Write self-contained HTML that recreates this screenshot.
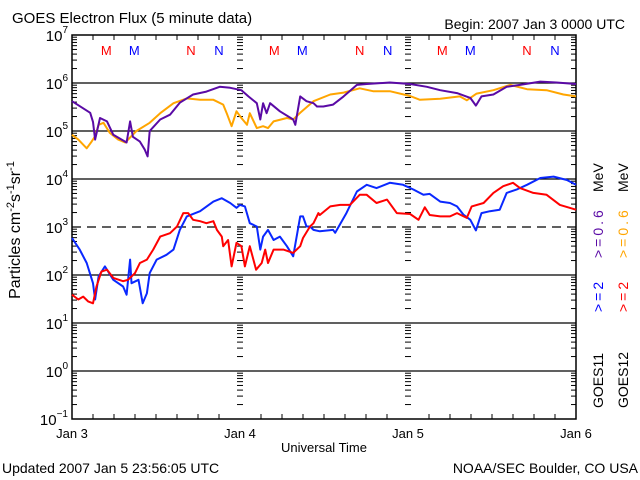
<!DOCTYPE html>
<html><head><meta charset="utf-8">
<style>
html,body{margin:0;padding:0;background:#fff;}
svg{display:block;font-family:"Liberation Sans","DejaVu Sans",sans-serif;}
</style></head>
<body>
<svg id="chart" width="640" height="480" viewBox="0 0 640 480" xmlns="http://www.w3.org/2000/svg">
<rect x="0" y="0" width="640" height="480" fill="#fff"/>
<text x="12" y="23" font-size="15" fill="#000">GOES Electron Flux (5 minute data)</text>
<text x="625" y="29" font-size="14" fill="#000" text-anchor="end">Begin: 2007 Jan 3 0000 UTC</text>
<text x="2" y="473" font-size="14" fill="#000">Updated 2007 Jan  5 23:56:05 UTC</text>
<text x="638" y="473" font-size="14" fill="#000" text-anchor="end">NOAA/SEC Boulder, CO USA</text>
<text x="324" y="452" font-size="13" fill="#000" text-anchor="middle">Universal Time</text>
<text transform="translate(20,230) rotate(-90)" font-size="16" fill="#000" text-anchor="middle">Particles cm<tspan font-size="11" dy="-6">-2</tspan><tspan dy="6">s</tspan><tspan font-size="11" dy="-6">-1</tspan><tspan dy="6">sr</tspan><tspan font-size="11" dy="-6">-1</tspan></text>
<g id="axes"></g>
<g id="series"></g>
<g id="legend">
  <text transform="translate(603,408) rotate(-90)" font-size="14" fill="#000">GOES11</text>
  <text transform="translate(603,312) rotate(-90)" font-size="14" letter-spacing="3" fill="#0000ff">&gt;=2</text>
  <text transform="translate(603,258) rotate(-90)" font-size="14" letter-spacing="3" fill="#5a0aa5">&gt;=0.6</text>
  <text transform="translate(603,192) rotate(-90)" font-size="14" fill="#000">MeV</text>
  <text transform="translate(628,408) rotate(-90)" font-size="14" fill="#000">GOES12</text>
  <text transform="translate(628,312) rotate(-90)" font-size="14" letter-spacing="3" fill="#ff0000">&gt;=2</text>
  <text transform="translate(628,258) rotate(-90)" font-size="14" letter-spacing="3" fill="#ffa500">&gt;=0.6</text>
  <text transform="translate(628,192) rotate(-90)" font-size="14" fill="#000">MeV</text>
</g>
</svg>
<script>
const dayLabels = ["Jan 3","Jan 4","Jan 5","Jan 6"];
const decadeExponents = [7,6,5,4,3,2,1,0,-1];
const markerLabels = ["N","M","M","N","N","M","M","N","N","M","M","N","N"];
const markerHours = [-3.9,4.9,8.9,17.0,21.0,28.9,32.9,41.1,45.1,52.9,56.9,65.0,69.0];
const markerColors = ["#0000ff","#ff0000","#0000ff","#ff0000","#0000ff","#ff0000","#0000ff","#ff0000","#0000ff","#ff0000","#0000ff","#ff0000","#0000ff"];

const g11LowHours = [0,2.6,3.0,3.3,4.0,5.0,5.9,7.8,8.3,8.7,9.7,10.4,10.8,11.1,12.6,14.0,15.4,17.3,19.2,21.1,22.6,24.2,25.2,26.4,26.9,27.3,27.8,28.3,29.7,31.6,31.9,32.6,33.5,34.5,35.0,35.9,37.3,38.8,40.7,42.1,45.4,48.3,50.7,52.6,55.0,56.9,57.7,58.5,60.2,62.1,64.0,66.9,69.2,72];
const g11LowLog = [5.62,5.38,5.19,4.82,5.27,5.20,4.92,4.76,5.2,4.88,4.78,4.61,4.47,5.0,5.24,5.34,5.59,5.76,5.82,5.92,5.90,5.85,5.72,5.58,5.24,5.58,5.37,5.58,5.41,5.24,5.13,5.72,5.62,5.58,5.51,5.51,5.55,5.72,5.96,5.98,6.01,5.98,5.92,5.85,5.79,5.69,5.53,5.72,5.76,5.92,5.96,6.03,6.01,5.98];

const g12LowHours = [0,0.9,2.1,2.8,3.3,3.8,4.5,5.4,6.6,7.6,9.2,11.1,12.6,14.5,16.4,18.3,20.2,21.6,22.1,22.8,23.5,24.2,25.0,25.4,26.4,27.3,28.0,28.8,30.7,31.6,32.6,34.5,36.9,38.8,41.1,43.0,45.4,48.3,49.7,52.6,55.4,56.4,57.8,60.2,62.6,65.0,67.8,70.2,72];
const g12LowLog = [4.92,4.82,4.64,4.78,4.89,5.13,5.17,4.96,4.82,4.76,5.0,5.17,5.37,5.58,5.68,5.65,5.65,5.55,5.37,5.1,5.41,5.27,5.13,5.37,5.06,5.1,5.06,5.2,5.27,5.24,5.38,5.62,5.76,5.80,5.89,5.83,5.83,5.73,5.65,5.67,5.72,5.64,5.78,5.85,5.96,5.87,5.85,5.76,5.72];

const g11HighHours = [0,1.1,2.1,3.0,3.3,3.8,4.7,5.9,7.3,7.8,8.3,8.5,9.5,10.1,10.7,11.1,12.1,13.5,14.5,15.4,16.4,18.3,20.2,21.4,22.6,23.5,24.0,24.7,25.4,26.4,26.9,27.3,28.0,28.8,29.7,30.7,31.6,32.6,33.0,33.5,34.0,34.5,35.4,37.3,37.6,39.2,40.7,42.1,43.5,45.4,47.3,48.8,50.2,51.1,52.6,54.0,55.0,55.9,56.9,57.7,58.5,59.7,61.1,62.1,63.5,65.0,66.9,68.8,70.7,72];
const g11HighLog = [2.77,2.53,2.25,1.83,1.49,1.97,2.18,1.90,1.76,1.59,2.32,1.83,1.9,1.41,1.62,2.04,2.32,2.42,2.53,2.94,3.22,3.33,3.53,3.60,3.50,3.40,3.46,3.43,3.08,3.01,2.53,2.80,2.94,2.73,2.80,2.60,2.39,3.22,3.22,3.01,3.01,2.94,2.91,2.94,2.88,3.29,3.74,3.88,3.81,3.92,3.88,3.78,3.67,3.69,3.53,3.50,3.43,3.26,3.15,2.93,3.29,3.33,3.36,3.71,3.78,3.88,4.02,4.05,3.98,3.88];

const g12HighHours = [0,0.9,1.6,2.3,3.0,3.5,4.2,5.0,5.9,7.3,8.0,9.0,9.7,10.7,11.6,12.6,14.0,15.0,15.9,16.6,17.3,18.3,19.2,20.2,20.7,21.4,21.6,22.3,22.8,23.5,24.2,24.7,25.4,26.3,27.1,27.6,28.0,28.8,30.2,31.6,32.6,33.0,34.0,34.5,35.2,35.4,36.9,38.3,39.7,41.1,42.1,43.5,45.0,46.4,48.3,49.5,50.4,51.1,52.6,54.0,55.0,56.4,57.1,58.8,60.2,61.6,63.0,64.0,65.9,67.8,69.7,72];
const g12HighLog = [1.59,1.49,1.55,1.45,1.41,1.76,2.07,2.11,1.94,1.87,1.90,2.04,2.25,2.32,2.53,2.80,2.87,3.01,3.29,3.29,3.15,3.12,3.08,3.12,2.94,2.80,2.60,2.73,2.18,2.67,2.60,2.18,2.60,2.11,2.25,2.53,2.25,2.53,2.53,2.46,2.60,2.77,3.01,3.08,3.29,3.25,3.43,3.46,3.46,3.67,3.67,3.50,3.57,3.29,3.27,3.15,3.41,3.25,3.22,3.22,3.29,3.19,3.43,3.50,3.71,3.85,3.92,3.81,3.71,3.67,3.46,3.36];

const NS = "http://www.w3.org/2000/svg";
const L = 72, R = 576, T = 35, B = 419;
const xScale = h => L + (R - L) * h / 72;
const yScale = lg => T + (7 - lg) * (B - T) / 8;
function mk(tag, attrs, parent) {
  const el = document.createElementNS(NS, tag);
  for (const k in attrs) el.setAttribute(k, attrs[k]);
  parent.appendChild(el);
  return el;
}
const axes = document.getElementById("axes");
const series = document.getElementById("series");

decadeExponents.forEach(e => {
  const y = yScale(e);
  if (e < 7 && e > -1) {
    const ln = mk("line", {x1:L, x2:R, y1:y, y2:y, stroke:"#000", "stroke-width":1.3}, axes);
    if (e === 3) ln.setAttribute("stroke-dasharray", "9,6");
    
    
  }
  const t = mk("text", {x:L - 4, y:y + 6, "font-size":15, "text-anchor":"end", fill:"#000"}, axes);
  t.textContent = "10";
  const s = mk("tspan", {"font-size":10, dy:-8}, t);
  s.textContent = e < 0 ? "−" + (-e) : String(e);
  
  
});
const tickX = [[L, 1], [R, -1], [xScale(24), 0], [xScale(48), 0]];
for (let e = -1; e < 7; e++) {
  for (let m = 2; m <= 9; m++) {
    const y = yScale(e + Math.log10(m));
    tickX.forEach(([x, dir]) => {
      let x1, x2;
      if (dir === 1) { x1 = x; x2 = x + 5; }
      else if (dir === -1) { x1 = x - 5; x2 = x; }
      else { x1 = x - 3; x2 = x + 3; }
      const tk = mk("line", {x1:x1, x2:x2, y1:y, y2:y, stroke:"#000", "stroke-width":1}, axes);
      
      
    });
  }
}
for (let h = 3; h < 72; h += 3) {
  if (h % 24 === 0) continue;
  const x = xScale(h);
  const a = mk("line", {x1:x, x2:x, y1:B, y2:B - 5, stroke:"#000", "stroke-width":1}, axes);
  
  
  const b = mk("line", {x1:x, x2:x, y1:T, y2:T + 5, stroke:"#000", "stroke-width":1}, axes);
  
  
}
dayLabels.forEach((d, i) => {
  const t = mk("text", {x:xScale(i * 24), y:B + 19, "font-size":13, "text-anchor":"middle", fill:"#000"}, axes);
  t.textContent = d;
  
  
});
const fr = mk("rect", {x:L, y:T, width:R - L, height:B - T, fill:"none", stroke:"#000", "stroke-width":1.5}, axes);


markerLabels.forEach((lab, i) => {
  const x = xScale(markerHours[i]);
  if (x < L) return;
  const t = mk("text", {x:x, y:55, "font-size":13, "text-anchor":"middle", fill:markerColors[i]}, axes);
  t.textContent = lab;
  
  
});
function draw(hours, logs, color, name) {
  const pts = hours.map((h, i) => xScale(h).toFixed(1) + "," + yScale(logs[i]).toFixed(1)).join(" ");
  const pl = mk("polyline", {points:pts, fill:"none", stroke:color, "stroke-width":2, "stroke-linejoin":"round"}, series);
  
  
}
draw(g12LowHours, g12LowLog, "#ffa500", "goes12-0.6mev-line");
draw(g11LowHours, g11LowLog, "#5a0aa5", "goes11-0.6mev-line");
draw(g11HighHours, g11HighLog, "#0a28ff", "goes11-2mev-line");
draw(g12HighHours, g12HighLog, "#ff0000", "goes12-2mev-line");
</script>
</body></html>
